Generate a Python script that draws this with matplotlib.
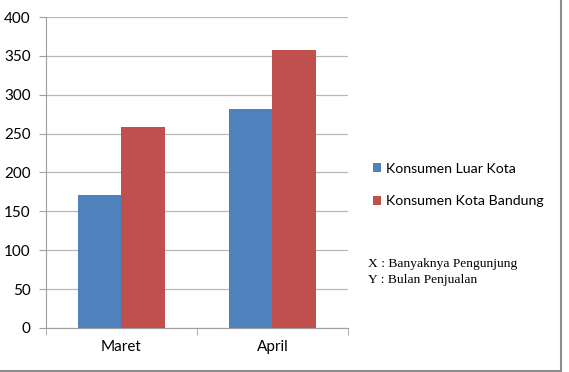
import numpy as np
import matplotlib.pyplot as plt

bulan = ['Maret', 'April']
luar_kota = [171, 282]
kota_bandung = [258, 357]
seri = ['Konsumen Luar Kota', 'Konsumen Kota Bandung']
warna = ['#4F81BD', '#C0504D']

plt.rcParams['font.family'] = ['Lato', 'DejaVu Sans']

fig = plt.figure(figsize=(5.69, 3.72), dpi=100)
ax = fig.add_axes([0.0808, 0.1183, 0.5308, 0.836])

x = np.arange(len(bulan))
w = 0.285
ax.bar(x - w / 2, luar_kota, w, color=warna[0], label=seri[0], zorder=3)
ax.bar(x + w / 2, kota_bandung, w, color=warna[1], label=seri[1], zorder=3)

ax.set_xlim(-0.5, 1.5)
ax.set_ylim(0, 400)
ax.set_yticks(range(0, 401, 50))
ax.yaxis.grid(True, color='#b8b8b8', linewidth=0.9, zorder=0)
ax.set_xticks(x)
ax.set_xticklabels(bulan)
ax.set_xticks([-0.5, 0.5, 1.5], minor=True)
ax.tick_params(axis='x', which='major', length=0, pad=9, labelsize=11)
ax.tick_params(axis='x', which='minor', length=5, color='#a0a0a0')
ax.tick_params(axis='y', length=5, color='#a0a0a0', labelsize=11, pad=6)
for s in ['top', 'right']:
    ax.spines[s].set_visible(False)
ax.spines['left'].set_color('#a0a0a0')
ax.spines['bottom'].set_color('#a0a0a0')

leg = fig.legend(loc='upper left', bbox_to_anchor=(0.633, 0.597), frameon=False,
                 fontsize=10.2, handlelength=0.6, handleheight=0.6, handletextpad=0.32,
                 labelspacing=1.45)

fig.text(0.647, 0.283, 'X : Banyaknya Pengunjung', family='Liberation Serif', fontsize=9.7)
fig.text(0.647, 0.238, 'Y : Bulan Penjualan', family='Liberation Serif', fontsize=9.7)

# bingkai abu-abu kanan & bawah
fig.add_artist(plt.Line2D([561 / 569, 561 / 569], [1 - 371 / 372, 1], transform=fig.transFigure,
                          color='#8c8c8c', linewidth=1.5))
fig.add_artist(plt.Line2D([0, 561 / 569], [1 - 371 / 372, 1 - 371 / 372], transform=fig.transFigure,
                          color='#8c8c8c', linewidth=1.5))

fig.savefig('out.png', dpi=100)
